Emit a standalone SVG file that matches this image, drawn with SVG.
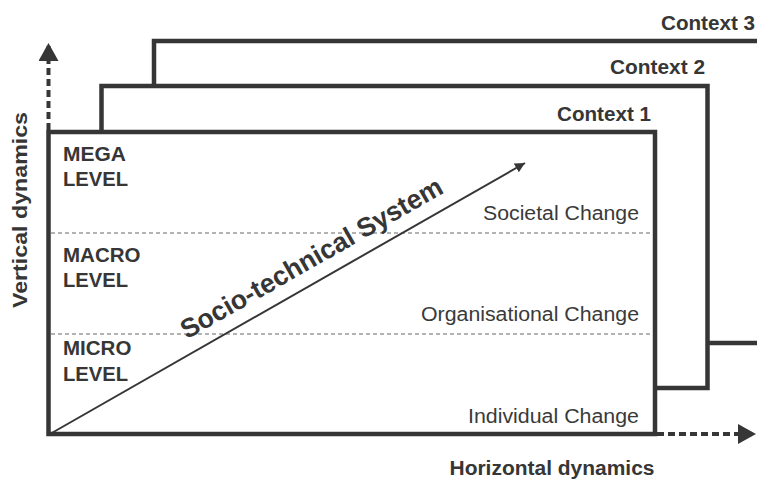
<svg xmlns="http://www.w3.org/2000/svg" width="757" height="480" viewBox="0 0 757 480">
<defs>
<style>
.frame{fill:none;stroke:#363636;stroke-width:4.5;stroke-linejoin:miter}
.lvl{font-family:"Liberation Sans",Arial,sans-serif;font-weight:bold;font-size:20.5px;fill:#363636}
.ctx{font-family:"Liberation Sans",Arial,sans-serif;font-weight:bold;font-size:21px;fill:#363636;text-anchor:end}
.chg{font-family:"Liberation Sans",Arial,sans-serif;font-size:19.5px;fill:#3a3a3a;text-anchor:end}
.axis{font-family:"Liberation Sans",Arial,sans-serif;font-weight:bold;font-size:20px;fill:#363636;text-anchor:middle}
.sep{stroke:#9a9a9a;stroke-width:1.5;stroke-dasharray:4 3;fill:none}
.dyn{stroke:#363636;stroke-width:4;stroke-dasharray:7 4;fill:none}
</style>
<marker id="tri" viewBox="0 0 10 10" refX="10" refY="5" markerWidth="10" markerHeight="10" markerUnits="userSpaceOnUse" orient="auto">
<path d="M0,0 L10,5 L0,10 Z" fill="#363636"/>
</marker>
<marker id="big" viewBox="0 0 18 20" refX="18" refY="10" markerWidth="18" markerHeight="20" markerUnits="userSpaceOnUse" orient="auto">
<path d="M0,0 L18,10 L0,20 Z" fill="#363636"/>
</marker>
</defs>
<rect width="757" height="480" fill="#ffffff"/>
<g id="context3">
<polyline class="frame" points="154,86 154,41 757,41"/>
<polyline class="frame" points="707.5,343 757,343"/>
<text class="ctx" x="755" y="30" textLength="94" lengthAdjust="spacingAndGlyphs">Context 3</text>
</g>
<g id="context2">
<polyline class="frame" points="101.5,132 101.5,86 707.5,86 707.5,388 655,388"/>
<text class="ctx" x="705" y="74" textLength="95" lengthAdjust="spacingAndGlyphs">Context 2</text>
</g>
<g id="context1">
<rect class="frame" x="48.5" y="132" width="606.5" height="302"/>
<text class="ctx" x="651" y="121" textLength="94" lengthAdjust="spacingAndGlyphs">Context 1</text>
</g>
<g id="separators">
<line class="sep" x1="51" y1="233" x2="653" y2="233"/>
<line class="sep" x1="51" y1="334" x2="653" y2="334"/>
</g>
<g id="mega">
<text class="lvl" x="63" y="161" textLength="63" lengthAdjust="spacingAndGlyphs">MEGA</text>
<text class="lvl" x="63" y="186" textLength="65" lengthAdjust="spacingAndGlyphs">LEVEL</text>
<text class="chg" x="639" y="220" textLength="156" lengthAdjust="spacingAndGlyphs">Societal Change</text>
</g>
<g id="macro">
<text class="lvl" x="63" y="262">MACRO</text>
<text class="lvl" x="63" y="287" textLength="65" lengthAdjust="spacingAndGlyphs">LEVEL</text>
<text class="chg" x="639" y="321" textLength="218" lengthAdjust="spacingAndGlyphs">Organisational Change</text>
</g>
<g id="micro">
<text class="lvl" x="63" y="355">MICRO</text>
<text class="lvl" x="63" y="381" textLength="65" lengthAdjust="spacingAndGlyphs">LEVEL</text>
<text class="chg" x="639" y="423" textLength="171" lengthAdjust="spacingAndGlyphs">Individual Change</text>
</g>
<g id="connectors">
<line x1="50" y1="434" x2="525" y2="163" stroke="#363636" stroke-width="2" marker-end="url(#tri)"/>
<line class="dyn" x1="48.5" y1="130" x2="48.5" y2="43" marker-end="url(#big)"/>
<line class="dyn" x1="657" y1="434" x2="756" y2="434" marker-end="url(#big)"/>
</g>
<g id="system">
<text transform="translate(316,266) rotate(-29.7)" font-family="Liberation Sans, Arial, sans-serif" font-weight="bold" font-size="27" fill="#363636" text-anchor="middle" textLength="297" lengthAdjust="spacingAndGlyphs">Socio-technical System</text>
</g>
<g id="axes">
<text class="axis" x="552" y="475" textLength="205" lengthAdjust="spacingAndGlyphs">Horizontal dynamics</text>
<text class="axis" transform="translate(27,210) rotate(-90)" textLength="196" lengthAdjust="spacingAndGlyphs">Vertical dynamics</text>
</g>
</svg>
